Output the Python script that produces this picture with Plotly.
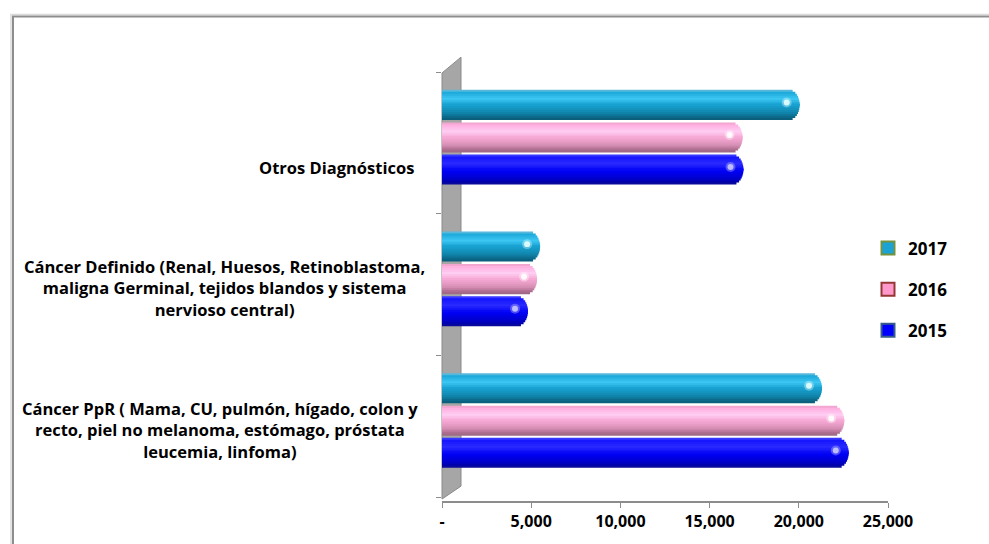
import numpy as np
import plotly.graph_objects as go

# ---- data -------------------------------------------------------------
categories = [
    "Cáncer PpR ( Mama, CU, pulmón, hígado, colon y<br>recto, piel no melanoma, estómago, próstata<br>leucemia, linfoma)",
    "Cáncer Definido (Renal, Huesos, Retinoblastoma,<br>maligna Germinal, tejidos blandos y sistema<br>nervioso central)",
    "Otros Diagnósticos",
]
years = ["2017", "2016", "2015"]
values_2017 = [21300, 5500, 20050]
values_2016 = [22550, 5330, 16850]
values_2015 = [22800, 4820, 16900]
tick_values = [0, 5000, 10000, 15000, 20000, 25000]
tick_labels = ["-", "5,000", "10,000", "15,000", "20,000", "25,000"]

series_values = {"2017": values_2017, "2016": values_2016, "2015": values_2015}

# ---- layout geometry (pixels of the 989x544 canvas) -------------------
W, H = 989, 544
PL, PR, PT, PB = 442, 888, 72, 505
X_MAX = 25000
Y_LO, Y_HI = -0.528, 2.5
UX = X_MAX / (PR - PL)            # data units per pixel along x
UY = (Y_HI - Y_LO) / (PB - PT)    # data units per pixel along y


def px_x(p):
    return (p - PL) / (PR - PL)


def px_y(p):
    return (PB - p) / (PB - PT)


FONT = "Open Sans"

# cylinder look: colour stops from top (0) to bottom (1) of each bar
styles = {
    "2017": dict(
        offset=0.162,
        stops=[(0.0, "#8cc8dc"), (0.07, "#1aa6d8"), (0.3, "#3cc6f2"), (0.5, "#18a2d2"),
               (0.75, "#1186ae"), (0.92, "#0b6584"), (1.0, "#0a5a76")],
        legend_fill="#1aa3d4", legend_line="#76923c", spot="#e6ffff",
    ),
    "2016": dict(
        offset=-0.068,
        stops=[(0.0, "#e8a0c4"), (0.08, "#ffaee0"), (0.3, "#ffcdf2"), (0.5, "#f7a9d5"),
               (0.75, "#d890b6"), (0.92, "#a86a8a"), (1.0, "#9a6884")],
        legend_fill="#ff99cc", legend_line="#953735", spot="#ffffff",
    ),
    "2015": dict(
        offset=-0.294,
        stops=[(0.0, "#5050ff"), (0.08, "#1414ff"), (0.3, "#2a2aff"), (0.55, "#0000f6"),
               (0.8, "#0000cc"), (0.95, "#0000a0"), (1.0, "#1a1a90")],
        legend_fill="#0000ff", legend_line="#385d8a", spot="#c8c8ff",
    ),
}
BAR_T = 0.212        # bar thickness in category units
N_STRIPS = 15
MID = N_STRIPS // 2
CAP_R = 11 * UX      # horizontal radius of the rounded bar end


def hex_to_rgb(h):
    h = h.lstrip("#")
    return np.array([int(h[i:i + 2], 16) for i in (0, 2, 4)], dtype=float)


def shade(stops, t):
    for (t0, c0), (t1, c1) in zip(stops[:-1], stops[1:]):
        if t0 <= t <= t1:
            f = (t - t0) / (t1 - t0) if t1 > t0 else 0
            c = hex_to_rgb(c0) * (1 - f) + hex_to_rgb(c1) * f
            return "rgb(%d,%d,%d)" % tuple(np.round(c))
    return stops[-1][1]


fig = go.Figure()

# each bar is built from thin horizontal strips; outer strips are drawn first and
# overlap their inner neighbour so no background shows through the seams
dt = BAR_T / N_STRIPS
strip_order = list(range(MID)) + list(range(N_STRIPS - 1, MID, -1)) + [MID]
for year in years:
    st = styles[year]
    vals = np.array(series_values[year], dtype=float)
    top = st["offset"] + BAR_T
    for k in strip_order:
        t_mid = (k + 0.5) / N_STRIPS
        u = (0.5 - t_mid) * 2
        lengths = vals - CAP_R * (1 - np.sqrt(1 - u * u))
        lo, hi = top - (k + 1) * dt, top - k * dt
        if k < MID:
            lo -= dt
        elif k > MID:
            hi += dt
        fig.add_trace(go.Bar(
            y=categories, x=lengths, orientation="h",
            width=hi - lo, offset=lo,
            marker=dict(color=shade(st["stops"], t_mid), line=dict(width=0)),
            showlegend=False, hoverinfo="skip",
        ))

# legend entries
for year in years:
    st = styles[year]
    fig.add_trace(go.Scatter(
        x=[None], y=[None], mode="markers", name=year, legendgroup=year,
        marker=dict(symbol="square", size=13, color=st["legend_fill"],
                    line=dict(color=st["legend_line"], width=2)),
    ))

shapes = []
# outer frame
shapes.append(dict(type="rect", xref="paper", yref="paper",
                   x0=px_x(11), x1=px_x(W + 20), y0=px_y(14), y1=px_y(H + 20),
                   line=dict(color="#dadada", width=1.5), layer="below"))
shapes.append(dict(type="rect", xref="paper", yref="paper",
                   x0=px_x(13), x1=px_x(W + 20), y0=px_y(16), y1=px_y(H + 20),
                   line=dict(color="#8e8e8e", width=2), layer="below"))
# side wall of the 3-D plot area
wall = [(442, 73), (461, 57), (461, 490), (442, 503)]
path = "M " + " L ".join("%f,%f" % (px_x(a), px_y(b)) for a, b in wall) + " Z"
shapes.append(dict(type="path", xref="paper", yref="paper", path=path,
                   fillcolor="#a6a6a6", line=dict(color="#8a8a8a", width=1), layer="below"))

# specular spots near the bar ends
for year in years:
    st = styles[year]
    for i, v in enumerate(series_values[year]):
        cx = v - 13 * UX
        cy = i + st["offset"] + BAR_T * 0.58
        for r, op in ((5, 0.35), (3, 0.9)):
            shapes.append(dict(type="circle", xref="x", yref="y",
                               x0=cx - r * UX, x1=cx + r * UX,
                               y0=cy - r * UY, y1=cy + r * UY,
                               fillcolor=st["spot"], opacity=op, line=dict(width=0)))

# category labels, one block per category
label_pos = {
    categories[0]: (220, 433),
    categories[1]: (224, 290),
    categories[2]: (336, 168),
}
annotations = []
for cat in categories:
    cx, cy = label_pos[cat]
    annotations.append(dict(
        text=cat, xref="paper", yref="paper", x=px_x(cx), y=px_y(cy),
        xanchor="center", yanchor="middle", align="center", showarrow=False,
        font=dict(family=FONT, size=16.5, color="black", weight="bold"),
    ))

fig.update_layout(
    width=W, height=H,
    margin=dict(l=PL, r=W - PR, t=PT, b=H - PB, pad=0),
    paper_bgcolor="white", plot_bgcolor="white",
    barmode="overlay",
    shapes=shapes, annotations=annotations,
    showlegend=True,
    legend=dict(x=px_x(868), y=px_y(232), xanchor="left", yanchor="top",
                font=dict(family=FONT, size=17, color="black", weight="bold"),
                tracegroupgap=16, itemwidth=30, bgcolor="rgba(0,0,0,0)"),
    xaxis=dict(range=[0, X_MAX], showgrid=False, zeroline=False,
               showline=True, linecolor="#8c8c8c", linewidth=1.5,
               ticks="outside", ticklen=5, tickcolor="#8c8c8c", tickwidth=1,
               tickvals=tick_values, ticktext=tick_labels,
               tickfont=dict(family=FONT, size=16, color="black", weight="bold")),
    yaxis=dict(type="category", categoryorder="array", categoryarray=categories,
               range=[Y_LO, Y_HI], showgrid=False, zeroline=False, showline=False,
               ticks="outside", tickson="boundaries", ticklen=5,
               tickcolor="#8c8c8c", showticklabels=False),
)

fig.write_html("out.html")
